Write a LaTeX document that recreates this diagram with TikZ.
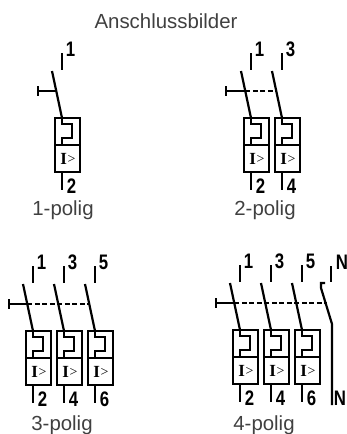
\documentclass[tikz,border=0pt]{standalone}
\usepackage{fontspec}
\setmainfont{Liberation Sans}
\newfontfamily\serifface{Liberation Serif}
\tikzset{>=latex}
\tikzset{
	wire/.style={line width=2.2pt,black},
	link/.style={line width=1.9pt,black,dash pattern=on 5pt off 2.5pt},
	pin/.style={inner sep=0pt,font=\fontsize{21}{21}\bfseries},
	caption/.style={inner sep=0pt,text=black!75,font=\fontsize{20.4}{21}\selectfont}
}
\newcommand{\pinlabel}[1]{\scalebox{.8}[1]{#1}}
% one pole: name, x, y, upper pin, lower pin
\newcommand{\pole}[5]{
	\begin{scope}[shift={(#2,#3)}]
		\coordinate (#1stub) at (0,0);
		\coordinate (#1tip) at (0,17);
		\coordinate (#1free) at (-10,18);
		\coordinate (#1in) at (0,65);
		\coordinate (#1out) at (0,119);
		\coordinate (#1end) at (0,137);
		\coordinate (#1link) at (-5.7,38);
		\draw[wire](#1stub)--(#1tip);
		\draw[wire](#1free)--(#1in);
		\draw[wire](-7,65) rectangle (18,119);
		\draw[wire](-7,92)--(18,92);
		\draw[wire](#1in)--(0,71)--(10,71)--(10,85)--(0,85)--(0,92);
		\draw[wire](#1out)--(#1end);
		\node (#1sym) at (6,105.5)[inner sep=0pt]{\fontsize{17}{17}\serifface\bfseries I\hspace{.6pt}\fontsize{14}{14}\selectfont\mdseries\raisebox{1pt}{>}};
		\node (#1top) at (8.5,-4)[pin]{\pinlabel{#4}};
		\node (#1bot) at (9.5,133)[pin]{\pinlabel{#5}};
	\end{scope}
}
\begin{document}
\begin{tikzpicture}[x=1pt,y=-1pt]
	\useasboundingbox (0,0) rectangle (347,434);
	\node (title) at(166,21)[caption]{Anschlussbilder};
	% 1-polig
	\pole{a}{62}{53}{1}{2}
	\coordinate (ahandle) at (38,91);
	\draw[wire](38,86)--(38,96);
	\draw[wire](ahandle)--(alink);
	\node (acap) at(63,210)[caption]{1-polig};
	% 2-polig
	\pole{b}{251}{53}{1}{2}
	\pole{c}{282}{53}{3}{4}
	\coordinate (bhandle) at (226,91);
	\draw[wire](226,86)--(226,96);
	\draw[wire](bhandle)--(blink);
	\draw[link](blink)--(clink);
	\node (bcap) at(265,210)[caption]{2-polig};
	% 3-polig
	\pole{d}{33}{266}{1}{2}
	\pole{e}{64}{266}{3}{4}
	\pole{f}{95}{266}{5}{6}
	\coordinate (dhandle) at (9,304);
	\draw[wire](9,299)--(9,309);
	\draw[wire](dhandle)--(dlink);
	\draw[link](dlink)--(flink);
	\node (dcap) at(62,425)[caption]{3-polig};
	% 4-polig
	\pole{g}{240}{265}{1}{2}
	\pole{h}{271}{265}{3}{4}
	\pole{i}{302}{265}{5}{6}
	\coordinate (ghandle) at (216,303);
	\coordinate (nstub) at (331,266);
	\coordinate (ntip) at (331,282);
	\coordinate (nfree) at (325,283);
	\coordinate (nlink) at (327,303);
	\coordinate (nend) at (332,405);
	\draw[wire](216,298)--(216,308);
	\draw[wire](ghandle)--(glink);
	\draw[link](glink)--(nlink);
	\draw[wire](nstub)--(ntip);
	\draw[wire](nfree)--(321,283)--(321,288)--(332,324)--(nend);
	\node (ntop) at(342,262)[pin]{\pinlabel{N}};
	\node (nbot) at(340,398)[pin]{\pinlabel{N}};
	\node (gcap) at(264,425)[caption]{4-polig};
\end{tikzpicture}
\end{document}
